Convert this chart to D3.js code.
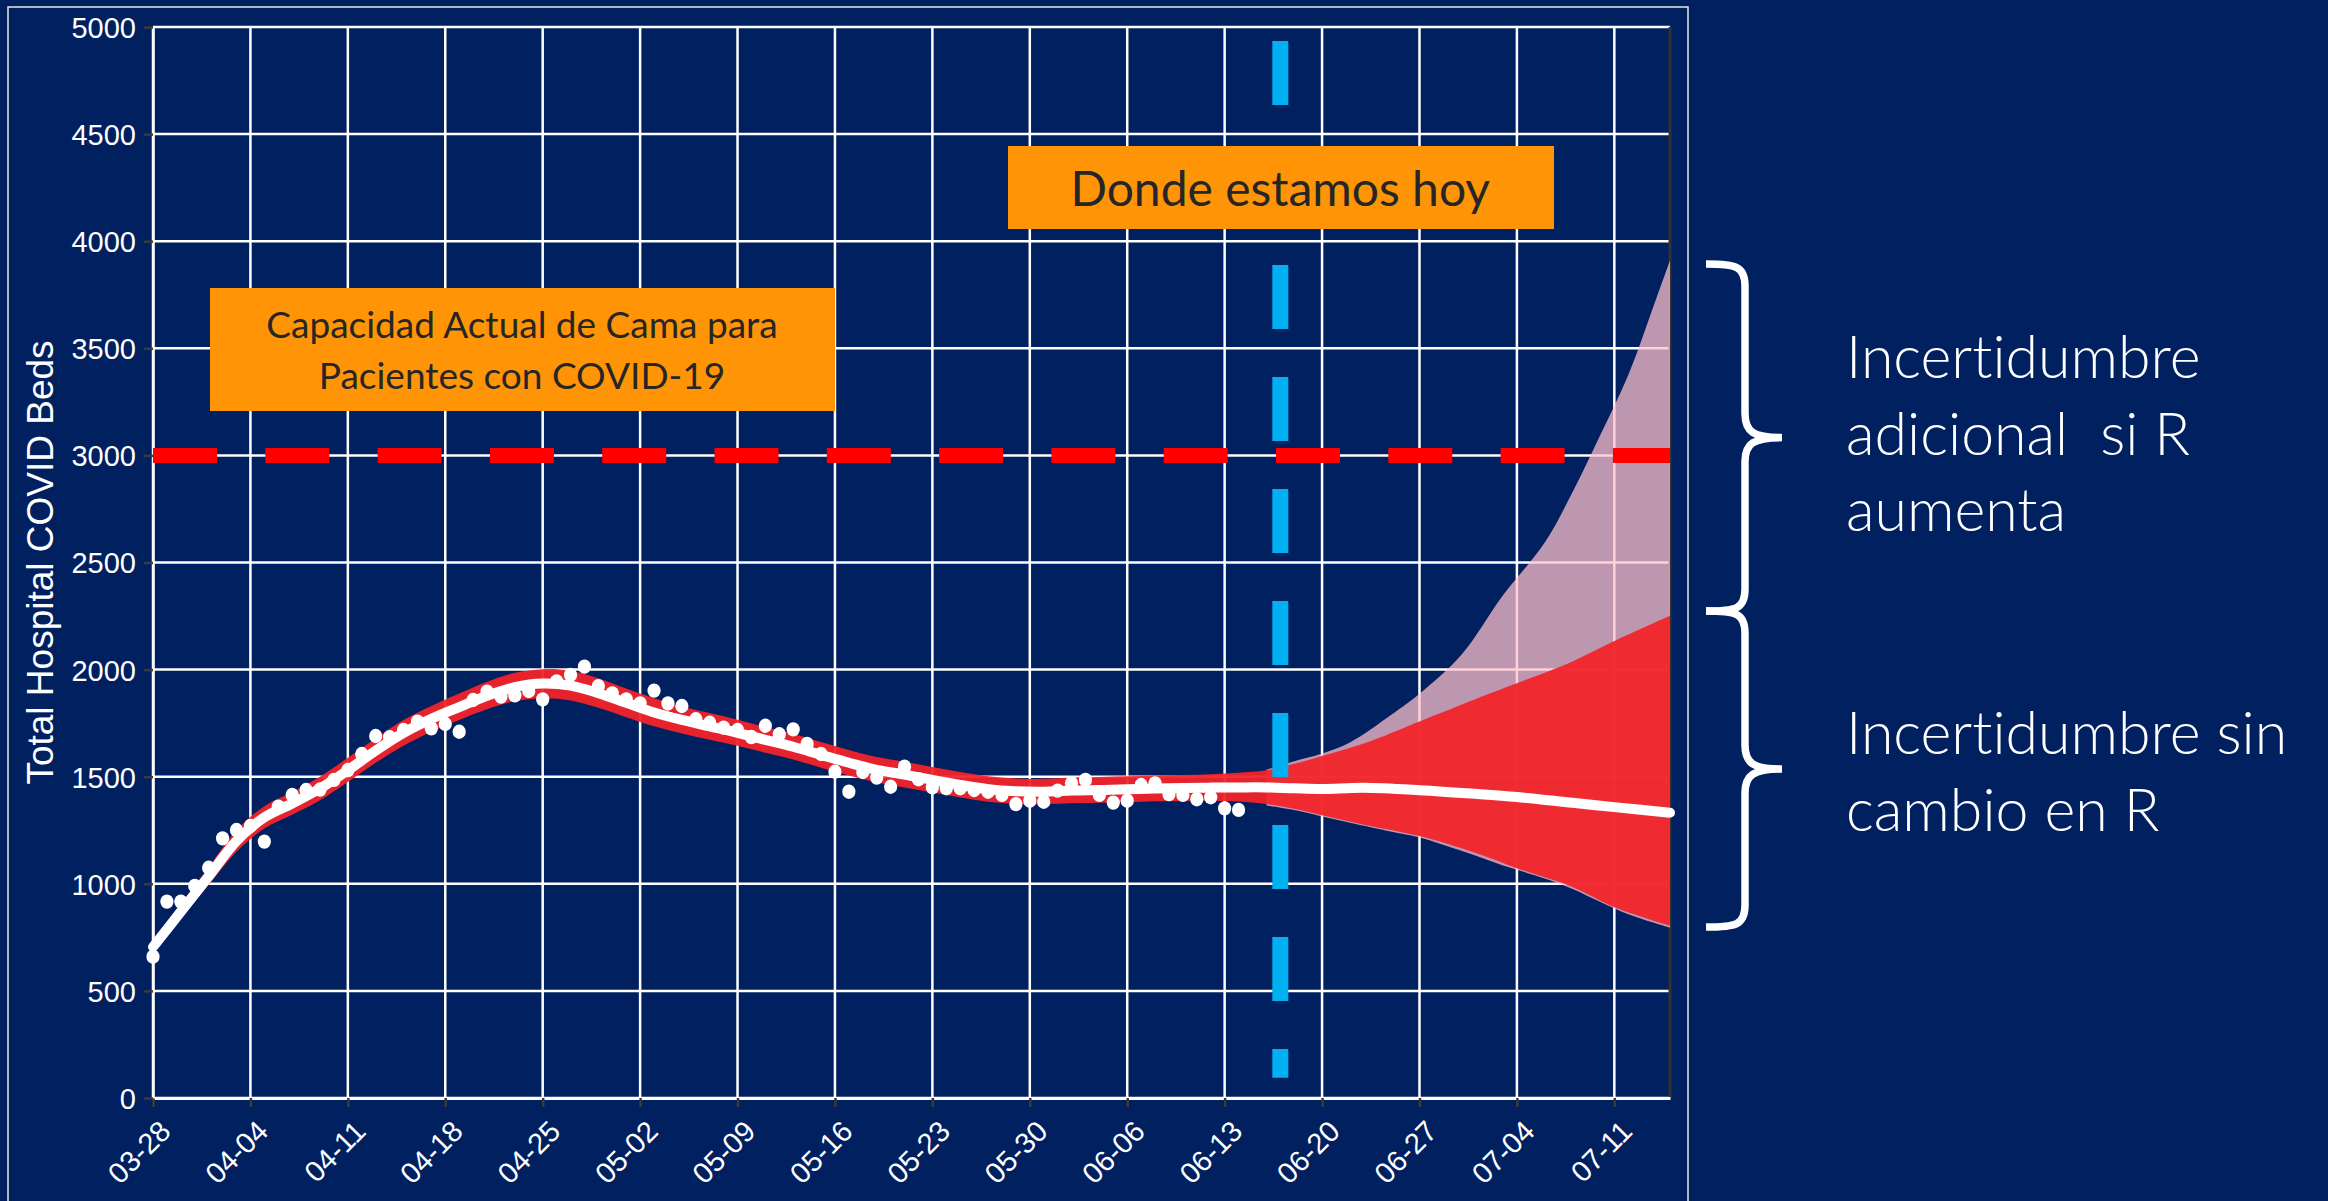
<!DOCTYPE html>
<html><head><meta charset="utf-8">
<script src="https://cdn.jsdelivr.net/npm/d3@7"></script>
<style>
html,body{margin:0;padding:0;background:#002060;overflow:hidden}
svg{display:block}
text{font-variant-ligatures:none;font-feature-settings:"liga" 0,"clig" 0}
</style></head><body>
<svg id="chart" width="2328" height="1201"></svg>
<script>
// ---------------- DATA ----------------
const startDate = "2020-03-28";
const endDate = "2020-07-15";
const tickLabels = ["03-28","04-04","04-11","04-18","04-25","05-02","05-09","05-16","05-23","05-30","06-06","06-13","06-20","06-27","07-04","07-11"];
const yTicks = [0,500,1000,1500,2000,2500,3000,3500,4000,4500,5000];

// observed daily hospital beds (day 0 = 03-28)
const obsValues = [660,917,917,990,1075,1212,1251,1270,1197,1360,1415,1438,1440,1485,1531,1606,1690,1684,1718,1757,
  1726,1746,1710,1858,1897,1874,1880,1900,1861,1945,1975,2014,1923,1889,1861,1842,1902,1842,1830,1768,
  1752,1729,1718,1685,1738,1698,1721,1653,1606,1523,1430,1522,1496,1453,1547,1488,1450,1446,1446,1438,
  1430,1415,1372,1388,1383,1435,1470,1485,1415,1379,1388,1461,1469,1419,1415,1395,1404,1352,1345];

// model fit / projection (days since 03-28)
const fitDays = [0,2,4,6,8,10,12,14,16,18,20,22,24,26,28,30,32,34,36,38,40,42,44,46,48,50,52,54,56,58,60,62,64,66,68,70,72,74,76,78,80,82,84,87,91,95,98,102,105,109];
const fitMid  = [705,870,1035,1200,1310,1375,1445,1530,1622,1705,1770,1825,1878,1918,1935,1925,1890,1845,1800,1765,1735,1705,1672,1640,1602,1565,1532,1510,1485,1462,1442,1432,1430,1436,1438,1441,1445,1447,1449,1450,1450,1446,1443,1448,1437,1420,1405,1378,1358,1332];
const fitLo   = [675,835,995,1150,1258,1322,1390,1475,1565,1645,1710,1765,1815,1852,1866,1856,1822,1778,1735,1702,1673,1644,1612,1580,1542,1506,1473,1450,1426,1403,1383,1373,1371,1376,1378,1381,1385,1387,1388,1384,1372,1350,1320,1276,1223,1145,1073,985,891,805];
const fitHi   = [735,905,1078,1250,1362,1428,1500,1588,1680,1765,1830,1888,1943,1985,2002,1995,1960,1912,1866,1828,1797,1766,1732,1700,1662,1625,1592,1570,1545,1522,1502,1492,1490,1496,1499,1502,1505,1508,1512,1518,1530,1560,1597,1655,1758,1862,1936,2038,2133,2251];

// additional uncertainty if R increases
const pinkDays = [80,82,84,86,89,91,94,97,100,102,104,106,108,109];
const pinkLo   = [1366,1344,1314,1285,1243,1216,1154,1086,1025,976,915,858,815,796];
const pinkHi   = [1532,1572,1608,1660,1790,1887,2068,2347,2593,2829,3096,3375,3730,3910];

const capacityValue = 3000;
const todayDate = "2020-06-17";
const todaySpan = [95, 4935];

const capacityText = ["Capacidad Actual de Cama para","Pacientes con COVID-19"];
const todayText = "Donde estamos hoy";
const braceSpans = [[3893,2273],[2273,798]];
const sideText1 = ["Incertidumbre","adicional  si R","aumenta"];
const sideText2 = ["Incertidumbre sin","cambio en R"];
const yTitle = "Total Hospital COVID Beds";

// ---------------- CHART ----------------
const svg = d3.select("#chart");
const L = 153, R = 1670, T = 27, B = 1098;
const parse = d3.utcParse("%Y-%m-%d");
const t0 = parse(startDate);
const dayDate = d => new Date(t0.getTime() + d * 864e5);
const x = d3.scaleUtc().domain([t0, parse(endDate)]).range([L, R]);
const y = d3.scaleLinear().domain([0, 5000]).range([B, T]);
const tickDates = tickLabels.map(l => parse("2020-" + l));
const AXFONT = "'Liberation Sans', Arial, sans-serif";

svg.append("rect").attr("width",2328).attr("height",1201).attr("fill","#002060");
svg.append("rect").attr("x",8).attr("y",7).attr("width",1680).attr("height",1400)
  .attr("fill","none").attr("stroke","#e8e8e8").attr("stroke-width",1.5);

// gridlines
const grid = svg.append("g");
grid.selectAll(".vg").data(tickDates).join("line")
  .attr("x1",d=>x(d)).attr("x2",d=>x(d)).attr("y1",y(0)).attr("y2",y(5000))
  .attr("stroke","#fff").attr("stroke-width",2.5);
grid.selectAll(".hg").data(yTicks).join("line")
  .attr("x1",L).attr("x2",R).attr("y1",d=>y(d)).attr("y2",d=>y(d))
  .attr("stroke","#fff").attr("stroke-width",2.5);

// right edge
svg.append("line").attr("x1",R).attr("x2",R).attr("y1",y(5000)).attr("y2",y(0))
  .attr("stroke","#333").attr("stroke-width",3);

// axes
const gx = svg.append("g").attr("transform",`translate(0,${y(0)})`)
  .call(d3.axisBottom(x).tickValues(tickDates).tickFormat((d,i)=>tickLabels[i]).tickSize(9).tickSizeOuter(0));
gx.select(".domain").attr("stroke","#fff").attr("stroke-width",3);
gx.selectAll(".tick line").attr("stroke","#3a3a3a").attr("stroke-width",2.5);
gx.selectAll(".tick text").attr("fill","#fff").attr("font-family",AXFONT)
  .attr("font-size",29).attr("text-anchor","end").attr("x",0).attr("y",0).attr("dy",0)
  .attr("transform","translate(19,35) rotate(-45)");

const gy = svg.append("g").attr("transform",`translate(${L},0)`)
  .call(d3.axisLeft(y).tickValues(yTicks).tickFormat(d3.format("d")).tickSize(9).tickSizeOuter(0));
gy.select(".domain").attr("stroke","#fff").attr("stroke-width",2.5);
gy.selectAll(".tick line").attr("stroke","#3a3a3a").attr("stroke-width",2.5);
gy.selectAll(".tick text").attr("fill","#fff").attr("font-family",AXFONT)
  .attr("font-size",29).attr("x",-17).attr("dy","0.36em");

svg.append("text").attr("transform",`translate(53,${(T+B)/2}) rotate(-90)`)
  .attr("text-anchor","middle").attr("fill","#fff")
  .attr("font-family",AXFONT).attr("font-size",37).text(yTitle);

// bands
const fitData = fitDays.map((d,i)=>({date:dayDate(d), mid:fitMid[i], lo:fitLo[i], hi:fitHi[i]}));
const pinkData = pinkDays.map((d,i)=>({date:dayDate(d), lo:pinkLo[i], hi:pinkHi[i]}));
const curve = d3.curveCatmullRom.alpha(0.5);

svg.append("path").datum(pinkData)
  .attr("d", d3.area().x(d=>x(d.date)).y0(d=>y(d.lo)).y1(d=>y(d.hi)).curve(curve))
  .attr("fill","pink").attr("fill-opacity",0.74);

svg.append("path").datum(fitData)
  .attr("d", d3.area().x(d=>x(d.date)).y0(d=>y(d.lo)).y1(d=>y(d.hi)).curve(curve))
  .attr("fill","rgb(242,36,42)").attr("fill-opacity",0.95);

svg.append("path").datum(fitData)
  .attr("d", d3.line().x(d=>x(d.date)).y(d=>y(d.mid)).curve(curve))
  .attr("fill","none").attr("stroke","#fff").attr("stroke-width",10).attr("stroke-linecap","round");

// observed points
svg.append("g").selectAll("ellipse").data(obsValues).join("ellipse")
  .attr("cx",(v,i)=>x(dayDate(i))).attr("cy",v=>y(v)).attr("rx",6.6).attr("ry",7.2).attr("fill","#fff");

// capacity line
svg.append("line").attr("x1",x(t0)).attr("x2",x(parse(endDate)))
  .attr("y1",y(capacityValue)).attr("y2",y(capacityValue))
  .attr("stroke","#ff0000").attr("stroke-width",15).attr("stroke-dasharray","64,48.3");

// today line
const tx = x(parse(todayDate));
svg.append("line").attr("x1",tx).attr("x2",tx).attr("y1",y(todaySpan[1])).attr("y2",y(todaySpan[0]))
  .attr("stroke","#00b0f0").attr("stroke-width",16).attr("stroke-dasharray","64,48");

// orange boxes
const ORANGE = "#ff9506";
const BOXFONT = "Lato, 'Open Sans', sans-serif";
svg.append("rect").attr("x",210).attr("y",288).attr("width",625).attr("height",123).attr("fill",ORANGE);
svg.append("g").selectAll("text").data(capacityText).join("text")
  .attr("x",522).attr("y",(d,i)=>338+i*51).attr("text-anchor","middle")
  .attr("font-family",BOXFONT).attr("font-size",37).attr("fill","#262626").text(d=>d);

svg.append("rect").attr("x",1008).attr("y",146).attr("width",546).attr("height",83).attr("fill",ORANGE);
svg.append("text").attr("x",tx).attr("y",206).attr("text-anchor","middle")
  .attr("font-family",BOXFONT).attr("font-size",48).attr("fill","#262626").text(todayText);

// braces
function bracePath(top, bot){
  const a = y(top), b = y(bot), m = (a+b)/2;
  const x0 = 1706, xs = 1745, xt = 1782;
  return `M${x0},${a} C${x0+30},${a} ${xs},${a+2} ${xs},${a+22} L${xs},${m-24} C${xs},${m-6} ${xs+8},${m} ${xt},${m}`+
         ` C${xs+8},${m} ${xs},${m+6} ${xs},${m+24} L${xs},${b-22} C${xs},${b-2} ${x0+30},${b} ${x0},${b}`;
}
svg.append("g").selectAll("path").data(braceSpans).join("path")
  .attr("d",d=>bracePath(d[0],d[1])).attr("fill","none").attr("stroke","#fff").attr("stroke-width",7.5);

// side texts
svg.append("g").selectAll("text").data(sideText1).join("text")
  .attr("x",1846).attr("y",(d,i)=>378+i*76.5).attr("fill","#fff").attr("font-family",BOXFONT)
  .attr("font-weight",300).attr("font-size",59).style("white-space","pre").text(d=>d);
svg.append("g").selectAll("text").data(sideText2).join("text")
  .attr("x",1846).attr("y",(d,i)=>754+i*76.5).attr("fill","#fff").attr("font-family",BOXFONT)
  .attr("font-weight",300).attr("font-size",59).style("white-space","pre").text(d=>d);
</script>
</body></html>
